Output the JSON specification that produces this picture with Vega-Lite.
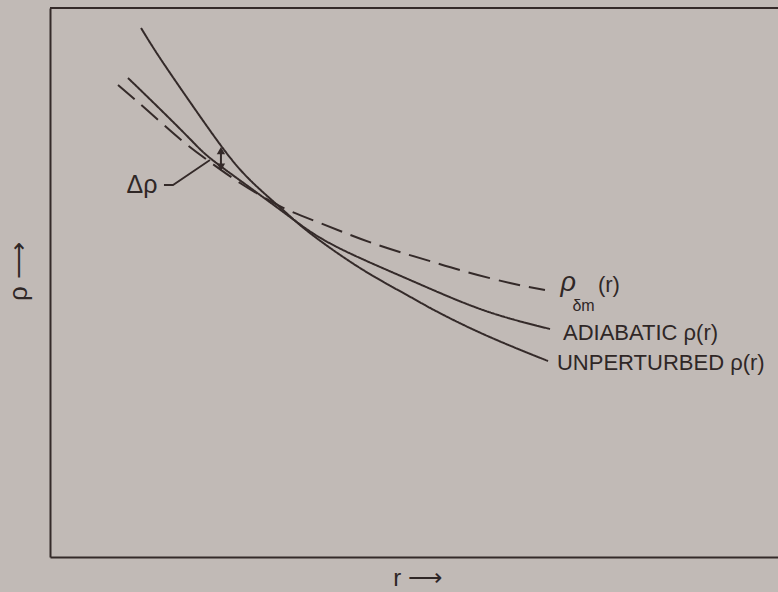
{
  "$schema": "https://vega.github.io/schema/vega-lite/v6.json",
  "autosize": {"type": "none"},
  "padding": {"left": 50, "top": 8, "right": 0, "bottom": 35},
  "width": 728,
  "height": 549,
  "background": "#c1bab6",
  "config": {
    "view": {"stroke": null},
    "font": "Liberation Sans"
  },
  "datasets": {
    "curves": [
      {"curve": "unperturbed", "r": 1.23, "rho": 9.636},
      {"curve": "unperturbed", "r": 1.486, "rho": 9.089},
      {"curve": "unperturbed", "r": 1.892, "rho": 8.288},
      {"curve": "unperturbed", "r": 2.324, "rho": 7.468},
      {"curve": "unperturbed", "r": 2.703, "rho": 6.867},
      {"curve": "unperturbed", "r": 3.149, "rho": 6.321},
      {"curve": "unperturbed", "r": 3.514, "rho": 5.9},
      {"curve": "unperturbed", "r": 4.189, "rho": 5.264},
      {"curve": "unperturbed", "r": 4.824, "rho": 4.772},
      {"curve": "unperturbed", "r": 5.176, "rho": 4.508},
      {"curve": "unperturbed", "r": 5.851, "rho": 4.062},
      {"curve": "unperturbed", "r": 6.73, "rho": 3.57},
      {"curve": "adiabatic", "r": 1.054, "rho": 8.725},
      {"curve": "adiabatic", "r": 1.486, "rho": 8.16},
      {"curve": "adiabatic", "r": 1.892, "rho": 7.614},
      {"curve": "adiabatic", "r": 2.162, "rho": 7.268},
      {"curve": "adiabatic", "r": 2.635, "rho": 6.794},
      {"curve": "adiabatic", "r": 3.243, "rho": 6.193},
      {"curve": "adiabatic", "r": 3.851, "rho": 5.665},
      {"curve": "adiabatic", "r": 4.865, "rho": 5.046},
      {"curve": "adiabatic", "r": 5.851, "rho": 4.499},
      {"curve": "adiabatic", "r": 6.757, "rho": 4.153},
      {"curve": "perturbed", "r": 0.919, "rho": 8.597},
      {"curve": "perturbed", "r": 1.311, "rho": 8.142},
      {"curve": "perturbed", "r": 1.757, "rho": 7.614},
      {"curve": "perturbed", "r": 2.162, "rho": 7.195},
      {"curve": "perturbed", "r": 2.568, "rho": 6.812},
      {"curve": "perturbed", "r": 2.905, "rho": 6.539},
      {"curve": "perturbed", "r": 3.243, "rho": 6.302},
      {"curve": "perturbed", "r": 3.649, "rho": 6.084},
      {"curve": "perturbed", "r": 4.027, "rho": 5.883},
      {"curve": "perturbed", "r": 4.392, "rho": 5.701},
      {"curve": "perturbed", "r": 4.77, "rho": 5.537},
      {"curve": "perturbed", "r": 5.176, "rho": 5.373},
      {"curve": "perturbed", "r": 5.635, "rho": 5.191},
      {"curve": "perturbed", "r": 6.216, "rho": 4.991},
      {"curve": "perturbed", "r": 6.689, "rho": 4.863}
    ],
    "leader": [
      {"k": 1, "r": 1.54, "rho": 6.776},
      {"k": 2, "r": 1.662, "rho": 6.776},
      {"k": 3, "r": 2.162, "rho": 7.231}
    ],
    "delta": [
      {"r": 2.31, "top": 7.4, "bottom": 7.1}
    ],
    "labels": [
      {"text": "ADIABATIC ρ(r)", "r": 6.932, "rho": 3.953},
      {"text": "UNPERTURBED ρ(r)", "r": 6.851, "rho": 3.406},
      {"text": "(r)", "r": 7.405, "rho": 4.827}
    ],
    "rhoLabel": [
      {"text": "ρ", "r": 6.9, "rho": 4.85}
    ],
    "subscript": [
      {"text": "δm", "r": 7.06, "rho": 4.48}
    ],
    "deltaLabel": [
      {"text": "Δρ", "r": 1.243, "rho": 6.63}
    ]
  },
  "layer": [
    {
      "data": {"name": "curves"},
      "mark": {"type": "line", "interpolate": "natural", "strokeWidth": 2, "color": "#342a29"},
      "encoding": {
        "x": {
          "field": "r", "type": "quantitative",
          "scale": {"domain": [0, 9.8378], "nice": false, "zero": false},
          "axis": {
            "domain": true, "domainColor": "#342a29", "domainWidth": 2,
            "ticks": false, "labels": false, "grid": false,
            "title": "r ⟶", "titleFontSize": 24, "titleFontWeight": "normal",
            "titleColor": "#2f2726", "titleX": 367, "titleY": 21,
            "titleBaseline": "middle", "titleAlign": "center"
          }
        },
        "y": {
          "field": "rho", "type": "quantitative",
          "scale": {"domain": [0, 10], "nice": false, "zero": false},
          "axis": {
            "domain": true, "domainColor": "#342a29", "domainWidth": 2,
            "ticks": false, "labels": false, "grid": false,
            "title": "ρ ⟶", "titleFontSize": 26, "titleFontWeight": "normal",
            "titleColor": "#2f2726", "titleX": -32, "titleY": 263,
            "titleAngle": -90, "titleBaseline": "middle", "titleAlign": "center"
          }
        },
        "detail": {"field": "curve"},
        "strokeDash": {
          "field": "curve", "type": "nominal",
          "scale": {"domain": ["perturbed", "adiabatic", "unperturbed"], "range": [[22, 9], [1, 0], [1, 0]]},
          "legend": null
        }
      }
    },
    {
      "data": {"values": [{}]},
      "mark": {"type": "rule", "strokeWidth": 2, "color": "#342a29"},
      "encoding": {"y": {"datum": 10, "type": "quantitative"}}
    },
    {
      "data": {"name": "leader"},
      "mark": {"type": "line", "strokeWidth": 1.8, "color": "#342a29"},
      "encoding": {
        "x": {"field": "r", "type": "quantitative"},
        "y": {"field": "rho", "type": "quantitative"},
        "order": {"field": "k"}
      }
    },
    {
      "data": {"name": "delta"},
      "mark": {"type": "rule", "strokeWidth": 2, "color": "#342a29"},
      "encoding": {
        "x": {"field": "r", "type": "quantitative"},
        "y": {"field": "top", "type": "quantitative"},
        "y2": {"field": "bottom"}
      }
    },
    {
      "data": {"name": "delta"},
      "mark": {"type": "point", "shape": "triangle-up", "filled": true, "size": 70, "color": "#342a29", "opacity": 1},
      "encoding": {
        "x": {"field": "r", "type": "quantitative"},
        "y": {"field": "top", "type": "quantitative"}
      }
    },
    {
      "data": {"name": "delta"},
      "mark": {"type": "point", "shape": "triangle-down", "filled": true, "size": 70, "color": "#342a29", "opacity": 1},
      "encoding": {
        "x": {"field": "r", "type": "quantitative"},
        "y": {"field": "bottom", "type": "quantitative"}
      }
    },
    {
      "data": {"name": "labels"},
      "mark": {"type": "text", "align": "left", "baseline": "alphabetic", "fontSize": 22, "color": "#2f2726"},
      "encoding": {
        "x": {"field": "r", "type": "quantitative"},
        "y": {"field": "rho", "type": "quantitative"},
        "text": {"field": "text"}
      }
    },
    {
      "data": {"name": "rhoLabel"},
      "mark": {"type": "text", "align": "left", "baseline": "alphabetic", "fontSize": 27, "fontStyle": "italic", "color": "#2f2726"},
      "encoding": {
        "x": {"field": "r", "type": "quantitative"},
        "y": {"field": "rho", "type": "quantitative"},
        "text": {"field": "text"}
      }
    },
    {
      "data": {"name": "subscript"},
      "mark": {"type": "text", "align": "left", "baseline": "alphabetic", "fontSize": 16, "color": "#2f2726"},
      "encoding": {
        "x": {"field": "r", "type": "quantitative"},
        "y": {"field": "rho", "type": "quantitative"},
        "text": {"field": "text"}
      }
    },
    {
      "data": {"name": "deltaLabel"},
      "mark": {"type": "text", "align": "center", "baseline": "alphabetic", "fontSize": 25, "color": "#2f2726"},
      "encoding": {
        "x": {"field": "r", "type": "quantitative"},
        "y": {"field": "rho", "type": "quantitative"},
        "text": {"field": "text"}
      }
    }
  ]
}
